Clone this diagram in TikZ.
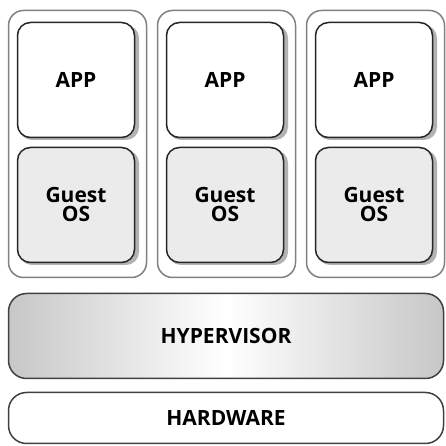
\documentclass[tikz,border=0pt]{standalone}
\usepackage{fontspec}
\setmainfont{Open Sans}
\begin{document}
\begin{tikzpicture}[x=1pt,y=1pt,line join=round,
font=\bfseries\fontsize{21}{24}\selectfont,
vmbox/.style={draw=black!50,line width=1.5pt,rounded corners=15pt,fill=white,minimum width=138pt,minimum height=267pt},
inbox/.style={draw=black!85,line width=1.5pt,rounded corners=13pt,minimum width=117pt,minimum height=115pt,align=center},
shade/.style={fill=black!30,rounded corners=13pt},
layer/.style={draw=black!75,line width=1.5pt,rounded corners=18pt,minimum width=435pt}]
\useasboundingbox (0,0) rectangle (445,446);
\foreach\i/\x in {1/77.5,2/226.5,3/375.5}{
\node[vmbox] (vm\i) at (\x,302) {};
% shadows under the inner boxes
\fill[shade] (\x-58.5,306) rectangle (\x+61.5,421);
\fill[shade] (\x-58.5,181) rectangle (\x+61.5,296);
\node[inbox,fill=white] (app\i) at (\x-1.5,366) {APP};
\node[inbox,fill=black!8] (os\i) at (\x-1.5,241) {Guest\\[-5pt]OS};
}
\node[layer,minimum height=85pt,left color=black!22,right color=black!22,middle color=white] (hyp) at (226,110) {HYPERVISOR};
\node[layer,minimum height=51pt,fill=white] (hw) at (226,28) {HARDWARE};
\end{tikzpicture}
\end{document}
